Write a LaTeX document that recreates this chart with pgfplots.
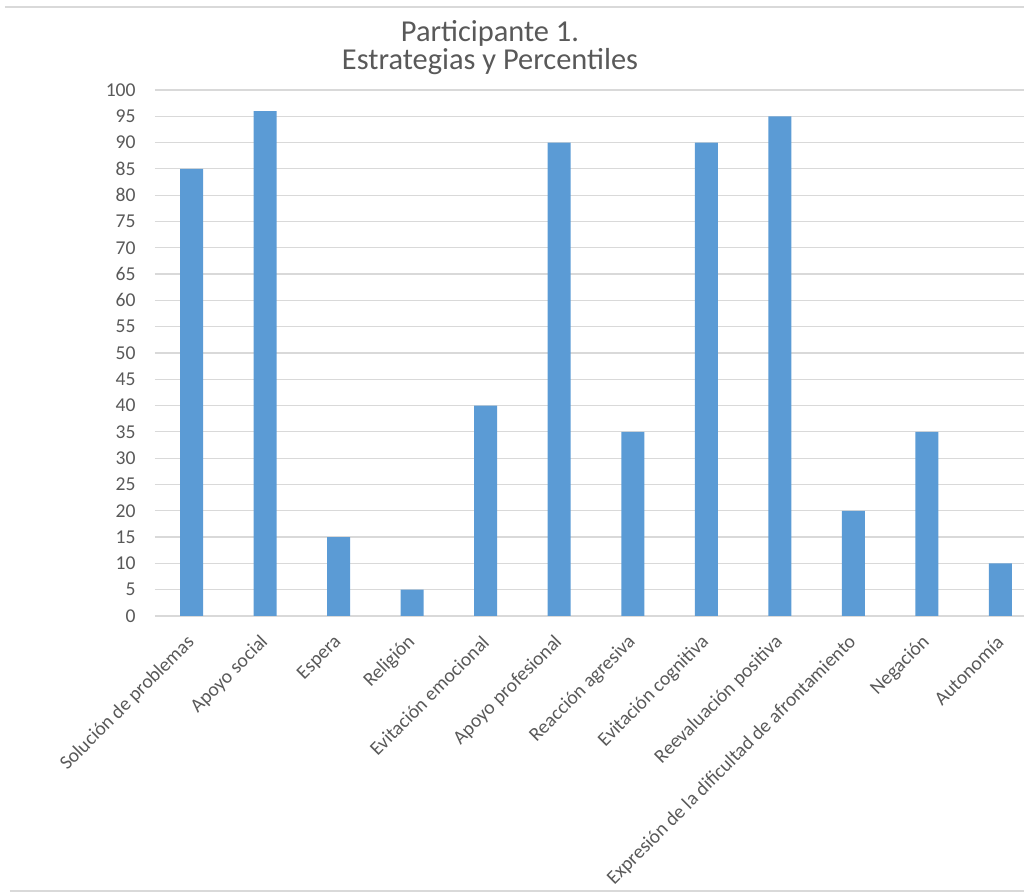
\documentclass[border=0pt]{standalone}
\usepackage{pgfplots}
\pgfplotsset{compat=1.18}
\usepackage{fontspec}
\setmainfont{Carlito}
\definecolor{barblue}{HTML}{5B9BD5}
\definecolor{gridgray}{HTML}{D9D9D9}
\definecolor{txtgray}{HTML}{595959}
\begin{document}
\begin{tikzpicture}
\path[use as bounding box] (-77.5pt,-138.5pt) rectangle (434.5pt,308pt);
\begin{axis}[
  at={(0,0)}, anchor=south west,
  scale only axis,
  width=441pt, height=263pt,
  xmin=-0.5, xmax=11.5,
  ymin=0, ymax=100,
  ytick distance=5,
  xtick=data,
  xticklabels={Solución de problemas, Apoyo social, Espera, Religión, Evitación emocional, Apoyo profesional, Reacción agresiva, Evitación cognitiva, Reevaluación positiva, Expresión de la dificultad de afrontamiento, Negación, Autonomía},
  axis line style={draw=none},
  major tick length=0pt,
  ymajorgrids,
  grid style={gridgray, line width=0.6pt},
  tick label style={font=\fontsize{9.8}{11}\selectfont, text=txtgray},
  /pgf/number format/assume math mode=true,
  yticklabel style={anchor=east, inner sep=0pt, xshift=-9.5pt},
  xticklabel style={xshift=0pt, yshift=-11.5pt, rotate=45, anchor=east, inner sep=0pt},
  clip=false,
]
\addplot[ybar, bar width=11.5pt, fill=barblue, draw=none] coordinates {
  (0,85) (1,96) (2,15) (3,5) (4,40) (5,90) (6,35) (7,90) (8,95) (9,20) (10,35) (11,10)
};
\end{axis}
\node[anchor=base, text=txtgray, font=\fontsize{15.2}{16}\selectfont] at (167.5pt,287pt) {Participante 1.};
\node[anchor=base, text=txtgray, font=\fontsize{15.2}{16}\selectfont] at (167.5pt,273pt) {Estrategias y Percentiles};
\draw[gridgray, line width=0.8pt] (-75pt,304.5pt) -- (440pt,304.5pt);
\draw[gridgray, line width=1pt] (-72.5pt,-137.5pt) -- (440pt,-137.5pt);
\end{tikzpicture}
\end{document}
